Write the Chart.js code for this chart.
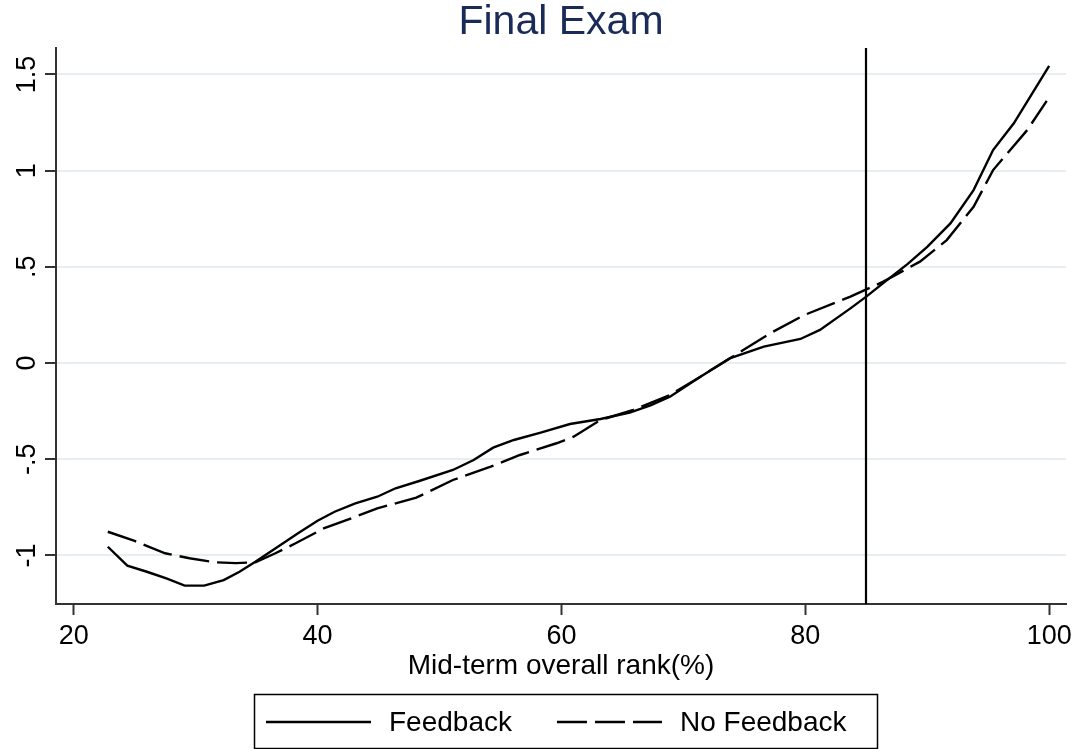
<!DOCTYPE html>
<html>
<head>
<meta charset="utf-8">
<script src="https://cdn.jsdelivr.net/npm/chart.js@4.4.1/dist/chart.umd.min.js"></script>
<style>
  html, body { margin: 0; padding: 0; background: #ffffff; }
  #wrap { width: 1080px; height: 749px; }
</style>
</head>
<body>
<div id="wrap"><canvas id="c" width="1080" height="749"></canvas></div>
<script>
// ---- Data ----
const titleText = "Final Exam";
const xAxisTitle = "Mid-term overall rank(%)";
const seriesNames = ["Feedback", "No Feedback"];

const xTicks = [20, 40, 60, 80, 100];
const yTicks = [-1, -0.5, 0, 0.5, 1, 1.5];
const yTickLabels = ["-1", "-.5", "0", ".5", "1", "1.5"];
const cutoffRank = 85;

const feedbackX = [22.8, 24.4, 26.0, 27.6, 29.1, 30.7, 32.3, 33.6, 34.9, 36.5, 38.4, 40.0, 41.4, 43.1, 44.9, 46.4, 48.4, 51.1, 52.8, 54.4, 56.1, 58.3, 60.7, 63.2, 65.6, 67.3, 68.9, 71.4, 73.8, 76.6, 79.6, 81.2, 83.7, 85.0, 86.7, 88.4, 90.0, 91.9, 93.8, 95.4, 97.1, 100.0];
const feedbackY = [-0.955, -1.053, -1.085, -1.12, -1.157, -1.157, -1.128, -1.085, -1.033, -0.965, -0.885, -0.82, -0.773, -0.729, -0.695, -0.651, -0.612, -0.556, -0.504, -0.440, -0.400, -0.362, -0.317, -0.291, -0.258, -0.22, -0.175, -0.071, 0.024, 0.085, 0.125, 0.172, 0.284, 0.345, 0.431, 0.515, 0.604, 0.726, 0.899, 1.107, 1.246, 1.544];

const noFeedbackX = [22.8, 25.0, 27.5, 29.5, 31.6, 33.3, 34.9, 36.5, 38.2, 40.5, 43.1, 44.9, 48.1, 51.1, 54.2, 56.6, 59.6, 61.0, 63.2, 65.9, 68.9, 71.4, 73.8, 77.1, 79.9, 83.7, 86.4, 89.4, 91.6, 93.8, 95.4, 98.2, 99.8];
const noFeedbackY = [-0.877, -0.925, -0.989, -1.015, -1.036, -1.04, -1.036, -0.99, -0.937, -0.86, -0.799, -0.755, -0.700, -0.608, -0.539, -0.478, -0.417, -0.383, -0.296, -0.244, -0.166, -0.071, 0.024, 0.154, 0.249, 0.345, 0.423, 0.527, 0.639, 0.812, 1.003, 1.211, 1.363];

// ---- Chart ----
const FONT = "'Liberation Sans', Arial, Helvetica, sans-serif";
Chart.defaults.font.family = FONT;
Chart.defaults.color = '#000000';

const toPoints = (xs, ys) => xs.map((x, i) => ({ x: x, y: ys[i] }));

const cutoffLine = {
  id: 'cutoffLine',
  afterDatasetsDraw(chart) {
    const { ctx, chartArea, scales } = chart;
    const px = Math.round(scales.x.getPixelForValue(cutoffRank));
    ctx.save();
    ctx.strokeStyle = '#000000';
    ctx.lineWidth = 2.2;
    ctx.beginPath();
    ctx.moveTo(px, chartArea.top);
    ctx.lineTo(px, chartArea.bottom);
    ctx.stroke();
    ctx.restore();
  }
};

// Boxed legend (Stata style) built from the chart's datasets
const boxedLegend = {
  id: 'boxedLegend',
  afterDraw(chart) {
    const { ctx, chartArea } = chart;
    const sample = 105, gapText = 18, gapItem = 45, padL = 12, padR = 30;
    ctx.save();
    ctx.font = "28px " + FONT;
    const items = chart.data.datasets.map(ds => ({
      label: ds.label, dash: ds.borderDash || [], width: ds.borderWidth || 2,
      tw: ctx.measureText(ds.label).width
    }));
    let content = 0;
    items.forEach((it, i) => { content += sample + gapText + it.tw + (i < items.length - 1 ? gapItem : 0); });
    const boxW = padL + content + padR;
    const cx = (chartArea.left + chartArea.right) / 2 + 4;
    const left = Math.round(cx - boxW / 2);
    const top = chart.height - 55, bottom = chart.height - 1;
    const cy = chart.height - 27;
    ctx.strokeStyle = '#000000';
    ctx.lineWidth = 1.5;
    ctx.setLineDash([]);
    ctx.strokeRect(left + 0.5, top + 0.5, Math.round(boxW), bottom - top);
    let x = left + padL;
    items.forEach((it) => {
      ctx.beginPath();
      ctx.setLineDash(it.dash);
      ctx.lineWidth = it.width;
      ctx.moveTo(x, cy);
      ctx.lineTo(x + sample, cy);
      ctx.stroke();
      ctx.setLineDash([]);
      x += sample + gapText;
      ctx.fillStyle = '#000000';
      ctx.textBaseline = 'middle';
      ctx.textAlign = 'left';
      ctx.fillText(it.label, x, cy + 1);
      x += it.tw + gapItem;
    });
    ctx.restore();
  }
};

new Chart(document.getElementById('c'), {
  type: 'line',
  data: {
    datasets: [
      {
        label: seriesNames[0],
        data: toPoints(feedbackX, feedbackY),
        borderColor: '#000000',
        backgroundColor: '#000000',
        borderWidth: 2.4,
        pointRadius: 0,
        tension: 0,
        fill: false
      },
      {
        label: seriesNames[1],
        data: toPoints(noFeedbackX, noFeedbackY),
        borderColor: '#000000',
        backgroundColor: '#000000',
        borderWidth: 2.4,
        borderDash: [30, 8],
        pointRadius: 0,
        tension: 0,
        fill: false
      }
    ]
  },
  options: {
    responsive: false,
    animation: false,
    devicePixelRatio: 1,
    layout: { padding: { left: 0, right: 14, top: 0, bottom: 66 } },
    plugins: {
      title: {
        display: true,
        text: titleText,
        fullSize: false,
        color: '#1b2b58',
        font: { size: 41, weight: 'normal', lineHeight: 1.1 },
        padding: { top: 0, bottom: 3 }
      },
      legend: { display: false },
      tooltip: { enabled: false }
    },
    scales: {
      x: {
        type: 'linear',
        min: 18.55,
        max: 101.38,
        afterBuildTicks: (s) => { s.ticks = xTicks.map(v => ({ value: v })); },
        afterFit: (s) => { s.height = 79; },
        border: { display: true, color: '#333333', width: 2 },
        grid: { drawOnChartArea: false, drawTicks: true, tickLength: 11, tickColor: '#333333', tickWidth: 2 },
        ticks: { font: { size: 27 }, color: '#000000', padding: 5, maxRotation: 0, minRotation: 0 },
        title: { display: true, text: xAxisTitle, font: { size: 28 }, color: '#000000', padding: { top: 0, bottom: 0 } }
      },
      y: {
        type: 'linear',
        min: -1.2526,
        max: 1.637,
        afterBuildTicks: (s) => { s.ticks = yTicks.map(v => ({ value: v })); },
        afterFit: (s) => { s.width = 56; },
        border: { display: true, color: '#333333', width: 2 },
        grid: { color: '#e6eef1', lineWidth: 2, drawTicks: true, tickLength: 11, tickColor: '#333333', tickWidth: 2 },
        ticks: {
          font: { size: 27 },
          color: '#000000',
          padding: -1,
          minRotation: 90,
          maxRotation: 90,
          crossAlign: 'center',
          callback: (v) => { const i = yTicks.indexOf(v); return i >= 0 ? yTickLabels[i] : ''; }
        }
      }
    }
  },
  plugins: [cutoffLine, boxedLegend]
});
</script>
</body>
</html>
